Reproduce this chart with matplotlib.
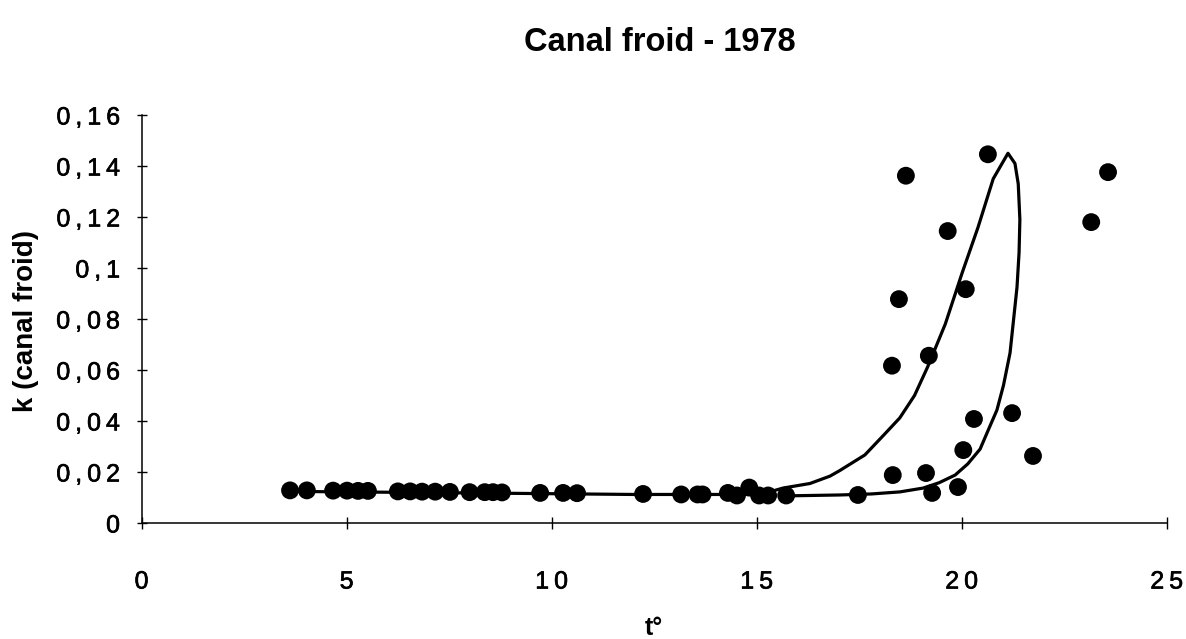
import matplotlib
matplotlib.use("Agg")
import matplotlib.pyplot as plt
import matplotlib.patheffects as pe

# Observed rate constants k in the cold channel against water temperature t°
t_obs = [3.62, 4.03, 4.67, 5.01, 5.28, 5.52, 6.25, 6.55, 6.84, 7.16, 7.52,
         8.00, 8.37, 8.57, 8.79, 9.72, 10.28, 10.62, 12.23, 13.16, 13.56,
         13.68, 14.30, 14.52, 14.82, 15.06, 15.28, 15.72, 17.47, 18.32,
         19.13, 19.28, 19.91, 20.04, 20.30, 21.23, 21.74, 18.30, 19.20,
         18.47, 20.10, 19.66, 18.64, 20.64, 23.16, 23.57]
k_obs = [0.0128, 0.0128, 0.0127, 0.0127, 0.0126, 0.0126, 0.0124, 0.0124,
         0.0123, 0.0123, 0.0122, 0.0121, 0.0121, 0.0121, 0.0120, 0.0118,
         0.0118, 0.0117, 0.0114, 0.0112, 0.0112, 0.0112, 0.0118, 0.0108,
         0.0139, 0.0108, 0.0108, 0.0108, 0.0110, 0.0188, 0.0196, 0.0118,
         0.0141, 0.0286, 0.0408, 0.0431, 0.0263, 0.0617, 0.0656, 0.0878,
         0.0917, 0.1145, 0.1362, 0.1446, 0.1180, 0.1376]

# Fitted seasonal loop: warming branch up to the peak, cooling branch back down
t_fit = [3.62, 8.0, 12.0, 15.1, 15.64, 16.3, 16.79, 17.03, 17.64, 18.1,
         18.49, 18.85, 19.17, 19.6, 20.01, 20.4, 20.77, 21.13, 21.30, 21.38,
         21.42, 21.40, 21.35, 21.18, 21.02, 20.86, 20.65, 20.45, 20.15,
         19.84, 19.45, 19.06, 18.49, 17.8, 17.03, 15.57]
k_fit = [0.0124, 0.0118, 0.0112, 0.0112, 0.0137, 0.0155, 0.0184, 0.0206,
         0.0267, 0.0345, 0.0412, 0.0500, 0.0612, 0.0780, 0.0980, 0.1160,
         0.1350, 0.1450, 0.1410, 0.1330, 0.1190, 0.1060, 0.0925, 0.0667,
         0.0540, 0.0443, 0.0365, 0.0290, 0.0232, 0.0188, 0.0158, 0.0137,
         0.0122, 0.0114, 0.0110, 0.0106]

x_ticks = [0, 5, 10, 15, 20, 25]
x_labels = ["0", "5", "1\u20090", "1\u20095", "2\u20090", "2\u20095"]
y_ticks = [0, 0.02, 0.04, 0.06, 0.08, 0.10, 0.12, 0.14, 0.16]
y_labels = ["0", "0\u2009,\u20090\u20092", "0\u2009,\u20090\u20094",
            "0\u2009,\u20090\u20096", "0\u2009,\u20090\u20098",
            "0\u2009,\u20091", "0\u2009,\u20091\u20092",
            "0\u2009,\u20091\u20094", "0\u2009,\u20091\u20096"]

plt.rcParams["font.family"] = ["Liberation Sans", "DejaVu Sans"]

fig = plt.figure(figsize=(11.86, 6.39), dpi=100)
ax = fig.add_axes([0.1194, 0.1815, 0.8643, 0.6385])

ax.plot(t_fit, k_fit, color="black", lw=2.3, solid_joinstyle="round",
        solid_capstyle="round", zorder=2)
ax.scatter(t_obs, k_obs, s=165, color="black", edgecolors="none", zorder=3)

ax.set_xlim(0, 25)
ax.set_ylim(0, 0.16)
ax.set_xticks(x_ticks)
ax.set_xticklabels(x_labels)
ax.set_yticks(y_ticks)
ax.set_yticklabels(y_labels)

for side in ("top", "right"):
    ax.spines[side].set_visible(False)
for side in ("left", "bottom"):
    ax.spines[side].set_linewidth(1.1)

ax.tick_params(axis="y", direction="inout", length=7, width=1.0,
               labelsize=18, pad=12)
ax.tick_params(axis="x", direction="inout", length=9, width=1.0,
               labelsize=18, pad=29)

# Slightly heavier strokes on the tick numbers
heavy = [pe.withStroke(linewidth=0.45, foreground="black")]
for lab in ax.get_xticklabels() + ax.get_yticklabels():
    lab.set_path_effects(heavy)

ax.set_ylabel("k (canal froid)", fontsize=20, fontweight="bold")
ax.yaxis.set_label_coords(-0.1, 0.495)
ax.set_xlabel("t°", fontsize=18, fontweight="bold", labelpad=16)
fig.text(0.5565, 0.934, "Canal froid - 1978", ha="center", va="center",
         fontsize=23.5, fontweight="bold")

fig.savefig("out.png", dpi=100)
